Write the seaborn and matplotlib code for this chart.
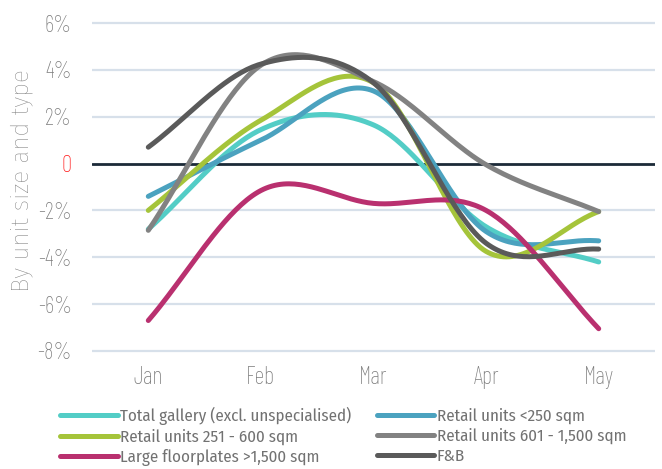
import numpy as np
import pandas as pd
import matplotlib
matplotlib.use("Agg")
import matplotlib.pyplot as plt
from matplotlib.lines import Line2D
import seaborn as sns

# Monthly change (%) by unit size and type
months = ["Jan", "Feb", "Mar", "Apr", "May"]
total_gallery = [-2.8, 1.45, 1.65, -2.7, -4.2]
retail_lt_250 = [-1.4, 1.0, 3.1, -2.9, -3.3]
retail_251_600 = [-2.0, 1.85, 3.45, -3.75, -2.05]
retail_601_1500 = [-2.85, 4.2, 3.5, -0.05, -2.05]
large_floorplates = [-6.7, -1.15, -1.7, -2.0, -7.05]
food_beverage = [0.7, 4.25, 3.45, -3.4, -3.65]

series_names = [
    "Total gallery (excl. unspecialised)",
    "Retail units <250 sqm",
    "Retail units 251 - 600 sqm",
    "Retail units 601 - 1,500 sqm",
    "Large floorplates >1,500 sqm",
    "F&B",
]
series_values = [total_gallery, retail_lt_250, retail_251_600,
                 retail_601_1500, large_floorplates, food_beverage]
colors = ["#53cdc6", "#4ba2bf", "#a5c43a", "#828282", "#b9306f", "#5a5a5a"]

y_ticks = [-8, -6, -4, -2, 0, 2, 4, 6]
y_tick_labels = ["-8%", "-6%", "-4%", "-2%", "0", "2%", "4%", "6%"]

TICK_FONT = ["Barlow Condensed", "Roboto Condensed", "Fira Sans Extra Condensed",
             "Liberation Sans Narrow", "DejaVu Sans"]
TEXT_FONT = ["Fira Sans Condensed", "IBM Plex Sans Condensed", "Roboto Condensed",
             "DejaVu Sans"]
LABEL_FONT = ["Fira Sans", "Open Sans", "DejaVu Sans"]


def smooth(values, steps=40):
    """Cardinal (Catmull-Rom) curve through the monthly values."""
    p = np.asarray(values, dtype=float)
    n = len(p)
    m = np.empty(n)
    m[1:-1] = (p[2:] - p[:-2]) / 2.0
    m[0] = p[1] - p[0]
    m[-1] = p[-1] - p[-2]
    xs, ys = [], []
    for i in range(n - 1):
        t = np.linspace(0, 1, steps, endpoint=(i == n - 2))
        h00 = 2 * t**3 - 3 * t**2 + 1
        h10 = t**3 - 2 * t**2 + t
        h01 = -2 * t**3 + 3 * t**2
        h11 = t**3 - t**2
        xs.append(i + t)
        ys.append(h00 * p[i] + h10 * m[i] + h01 * p[i + 1] + h11 * m[i + 1])
    return np.concatenate(xs), np.concatenate(ys)


frames = []
for name, vals in zip(series_names, series_values):
    x, y = smooth(vals)
    frames.append(pd.DataFrame({"x": x, "value": y, "series": name}))
df = pd.concat(frames, ignore_index=True)

sns.set_theme(style="white")
plt.rcParams["font.family"] = TICK_FONT

fig = plt.figure(figsize=(6.62, 4.69), dpi=100)
W, H = 662, 469
top_px, bottom_px = 20.7, 353.3
left_px, right_px = 92, 655
ax = fig.add_axes([left_px / W, 1 - bottom_px / H,
                   (right_px - left_px) / W, (bottom_px - top_px) / H])

# Horizontal grid
for yv in y_ticks:
    if yv == 0:
        continue
    ax.axhline(yv, color="#d7e0ea", lw=1.6, zorder=0)
ax.axhline(0, color="#1c2a38", lw=2.0, zorder=1)

sns.lineplot(data=df, x="x", y="value", hue="series", hue_order=series_names,
             palette=colors, lw=3.6, legend=False, ax=ax, sort=False,
             estimator=None, zorder=3)
for line in ax.get_lines():
    line.set_solid_capstyle("round")

ax.set_xlim(-0.5, 4.5)
ax.set_ylim(-8.1, 6.1)
ax.set_xticks(range(len(months)))
ax.set_xticklabels(months)
ax.set_yticks(y_ticks)
ax.set_yticklabels(y_tick_labels)
ax.tick_params(axis="both", length=0, labelcolor="#7a7a7a")
ax.tick_params(axis="y", pad=14.5, labelsize=16.5)
ax.tick_params(axis="x", pad=9, labelsize=17.5)
for lbl in ax.get_xticklabels() + ax.get_yticklabels():
    lbl.set_fontweight("light")
    if lbl.get_text() == "0":
        lbl.set_color("#ff1a1a")
for s in ax.spines.values():
    s.set_visible(False)
ax.set_xlabel("")
ax.set_ylabel("By unit size and type", fontsize=17.5, color="#808080",
              family=LABEL_FONT, fontweight="light")
ax.yaxis.set_label_coords(-59 / (right_px - left_px), 0.52)

# Legend, filled row by row in two columns
order = [0, 2, 4, 1, 3, 5]
handles = [Line2D([0], [0], color=colors[i], lw=3.6, solid_capstyle="round")
           for i in order]
labels = [series_names[i] for i in order]
fig.legend(handles, labels, loc="upper left", bbox_to_anchor=(60 / W, 1 - 407 / H),
           ncol=2, frameon=False, handlelength=3.4,
           handletextpad=0.15, columnspacing=1.5, labelspacing=0.22,
           labelcolor="#727272", borderaxespad=0, borderpad=0,
           prop={"family": TEXT_FONT, "size": 12.2, "weight": "normal"})

fig.savefig("out.png", dpi=100)
